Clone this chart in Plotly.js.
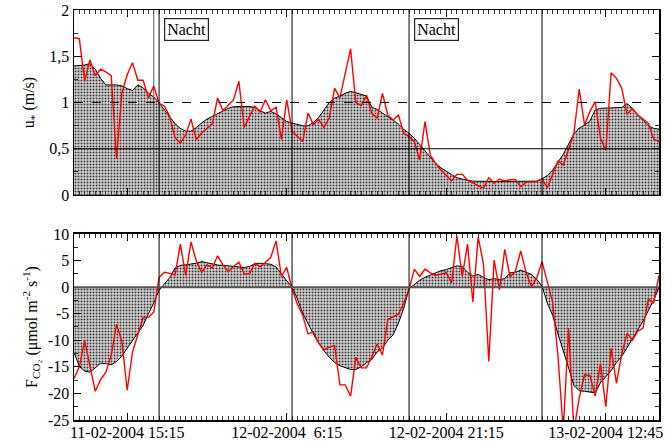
<!DOCTYPE html>
<html>
<head>
<meta charset="utf-8">
<script src="https://cdn.plot.ly/plotly-3.0.1.min.js"></script>
<style>
  html, body { margin: 0; padding: 0; background: #fff; }
  #chart { width: 665px; height: 443px; }
</style>
</head>
<body>
<div id="chart"></div>
<script>
// Half-hourly samples, sample 0 = 11-02-2004 10:15
const tickPositions = [10, 40, 70, 100];
const tickLabels = ['11-02-2004 15:15', '12-02-2004  6:15', '12-02-2004 21:15', '13-02-2004 12:45'];

// Friction velocity u* (m/s): measured and smoothed
const ustarRaw = [
  1.70, 1.69, 1.23, 1.46, 1.29, 1.36, 1.33, 1.29, 0.39, 1.10,
  1.30, 1.43, 1.24, 1.24, 1.05, 1.18, 0.99, 0.96, 0.85, 0.62,
  0.56, 0.65, 0.82, 0.60, 0.67, 0.72, 0.77, 1.05, 0.91, 0.97,
  1.03, 1.23, 0.73, 0.85, 0.96, 0.90, 1.03, 0.91, 0.95, 0.60,
  1.03, 0.69, 0.635, 0.577, 0.885, 0.762, 0.815, 0.73, 0.835, 1.155,
  1.05, 1.315, 1.58, 1.00, 0.968, 1.08, 0.883, 0.829, 1.099, 0.865,
  0.811, 0.865, 0.667, 0.631, 0.577, 0.378, 0.793, 0.432, 0.342, 0.27,
  0.209, 0.151, 0.223, 0.223, 0.16, 0.126, 0.10, 0.072, 0.187, 0.126,
  0.173, 0.151, 0.165, 0.169, 0.09, 0.137, 0.144, 0.144, 0.173, 0.079,
  0.223, 0.367, 0.324, 0.505, 0.667, 1.146, 0.757, 0.901, 1.009, 0.613,
  0.48, 1.322, 1.261, 1.153, 0.872, 0.937, 0.865, 0.822, 0.775, 0.605,
  0.577
];
const ustarSmooth = [
  1.395, 1.40, 1.405, 1.42, 1.36, 1.26, 1.19, 1.19, 1.19, 1.18,
  1.15, 1.13, 1.19, 1.16, 1.10, 1.06, 0.997, 0.92, 0.85, 0.77,
  0.72, 0.69, 0.69, 0.73, 0.78, 0.82, 0.85, 0.88, 0.91, 0.937,
  0.955, 0.958, 0.96, 0.958, 0.946, 0.91, 0.885, 0.904, 0.876, 0.838,
  0.795, 0.778, 0.76, 0.748, 0.748, 0.784, 0.838, 0.914, 1.0, 1.048,
  1.068, 1.10, 1.12, 1.105, 1.085, 1.07, 0.95, 0.925, 0.886, 0.85,
  0.81, 0.766, 0.71, 0.667, 0.613, 0.546, 0.478, 0.40, 0.34, 0.294,
  0.252, 0.22, 0.187, 0.171, 0.158, 0.15, 0.147, 0.146, 0.146, 0.146,
  0.146, 0.146, 0.146, 0.146, 0.146, 0.146, 0.146, 0.15, 0.175, 0.21,
  0.27, 0.35, 0.44, 0.55, 0.66, 0.725, 0.755, 0.80, 0.92, 0.937,
  0.94, 0.946, 0.942, 0.946, 0.988, 0.934, 0.865, 0.81, 0.75, 0.72,
  0.712
];

// CO2 flux (µmol m-2 s-1): measured and smoothed
const fco2Raw = [
  -17.2, -15.0, -10.0, -14.8, -19.6, -17.4, -16.0, -12.8, -7.0, -10.2,
  -19.4, -12.2, -8.9, -5.7, -5.7, -4.7, 1.8, 2.8, 2.6, 2.3,
  8.1, 2.2, 8.5, 4.9, 2.8, 4.2, 3.6, 5.9, 4.2, 2.9,
  3.9, 4.7, 2.5, 2.5, 4.5, 3.8, 4.7, 5.6, 8.7, 2.0,
  3.7, -0.3, -3.2, -5.3, -8.8, -8.4, -10.5, -11.8, -11.3, -11.0,
  -18.4, -18.4, -20.5, -13.2, -15.2, -15.2, -13.1, -10.7, -12.8, -6.1,
  -5.6, -5.1, -3.0, -0.4, 3.4, 2.0, 3.4, 2.7, 2.2, 2.5,
  2.7, 0.8, 9.6, 2.0, 8.1, -2.8, 9.4, 4.4, -14.0, 5.1,
  -0.5, 7.1, 1.9, 3.0, 6.8, 2.8, 0.1, 1.7, 4.8, 1.0,
  -2.8, -12.9, -27.0, -7.7, -27.0, -20.9, -16.5, -16.6, -20.5, -14.4,
  -22.5, -11.5, -18.1, -12.5, -8.7, -10.0, -8.3, -7.7, -2.2, -3.0,
  2.2
];
const fco2Smooth = [
  -12.3, -14.9, -15.8, -16.0, -15.2, -14.3, -14.4, -14.6, -14.0, -13.0,
  -11.5, -10.0, -8.5, -7.2, -5.0, -3.0, -0.6, 0.6, 1.8, 3.6,
  4.1, 4.2, 4.35, 4.5, 4.8, 4.6, 4.3, 4.15, 4.1, 4.0,
  3.9, 3.85, 3.7, 3.9, 4.4, 4.5, 4.35, 4.3, 3.8, 2.4,
  1.2, 0.0, -2.2, -4.9, -7.0, -8.8, -10.5, -12.0, -13.2, -14.2,
  -14.8, -15.2, -15.5, -15.5, -15.0, -14.2, -13.6, -12.2, -11.5, -10.0,
  -9.0, -6.8, -4.0, -0.3, 0.5, 1.3, 1.85, 2.3, 2.7, 3.1,
  3.3, 3.6, 4.0, 3.9, 2.8, 2.1, 2.4, 1.85, 1.4, 1.6,
  1.4, 1.6, 2.7, 2.8, 3.2, 2.8, 2.4, 1.5, 0.2, -3.0,
  -5.3, -8.8, -12.2, -15.2, -18.5, -19.5, -19.6, -19.7, -19.9, -18.0,
  -16.8, -15.7, -14.2, -13.0, -11.4, -9.8, -8.2, -6.4, -4.4, -2.5,
  -0.1
];

// Day/night boundaries (sample index) and night labels
const nightEdgesTop = [15, 16, 41, 63, 88];
const nightEdgesBottom = [16, 41, 63, 88];
const nightLabelX = [21.1, 68.1];
const nightLabelText = 'Nacht';

const ustarTickVals = [0, 0.5, 1, 1.5, 2];
const ustarTickText = ['0', '0,5', '1', '1,5', '2'];
const fluxTickVals = [-25, -20, -15, -10, -5, 0, 5, 10];
const fluxTickText = ['-25', '-20', '-15', '-10', '-5', '0', '5', '10'];

const FONT = 'Liberation Serif, Times New Roman, serif';

// fine halftone fill under the smoothed curves
const hatch = { shape: '.', size: 3, solidity: 0.35, fgcolor: '#3a3a3a', bgcolor: '#d4d4d4', fillmode: 'replace' };

const traces = [
  { y: ustarSmooth, x0: 0, dx: 1, xaxis: 'x2', yaxis: 'y2', type: 'scatter', mode: 'lines',
    line: { color: '#000', width: 1 }, fill: 'tozeroy', fillcolor: '#b8b8b8', fillpattern: hatch, hoverinfo: 'skip' },
  { y: ustarRaw, x0: 0, dx: 1, xaxis: 'x2', yaxis: 'y2', type: 'scatter', mode: 'lines',
    line: { color: '#ff0000', width: 1.4 } },
  { y: fco2Smooth, x0: 0, dx: 1, xaxis: 'x', yaxis: 'y', type: 'scatter', mode: 'lines',
    line: { color: '#000', width: 1 }, fill: 'tozeroy', fillcolor: '#b8b8b8', fillpattern: hatch, hoverinfo: 'skip' },
  { y: fco2Raw, x0: 0, dx: 1, xaxis: 'x', yaxis: 'y', type: 'scatter', mode: 'lines',
    line: { color: '#ff0000', width: 1.4 } }
];

const shapes = [];
nightEdgesTop.forEach((v, k) => shapes.push({
  type: 'line', xref: 'x2', yref: 'y2 domain', x0: v, x1: v, y0: 0, y1: 1,
  line: { color: k === 0 ? '#555' : '#000', width: 1 }, layer: 'above'
}));
nightEdgesBottom.forEach(v => shapes.push({
  type: 'line', xref: 'x', yref: 'y domain', x0: v, x1: v, y0: 0, y1: 1,
  line: { color: '#000', width: 1 }, layer: 'above'
}));
shapes.push({ type: 'line', xref: 'x2 domain', yref: 'y2', x0: 0, x1: 1, y0: 1, y1: 1,
  line: { color: '#000', width: 1, dash: 'dash' }, layer: 'above' });
shapes.push({ type: 'line', xref: 'x2 domain', yref: 'y2', x0: 0, x1: 1, y0: 0.5, y1: 0.5,
  line: { color: '#000', width: 1 }, layer: 'above' });
shapes.push({ type: 'line', xref: 'x domain', yref: 'y', x0: 0, x1: 1, y0: 0, y1: 0,
  line: { color: '#555', width: 2 }, layer: 'above' });

const annotations = nightLabelX.map(x => ({
  x: x, y: 1.79, xref: 'x2', yref: 'y2', text: nightLabelText, showarrow: false,
  font: { family: FONT, size: 16, color: '#000' },
  bgcolor: '#fff', bordercolor: '#222', borderwidth: 1.2, borderpad: 2
}));

const xCommon = {
  range: [0, 110], tickmode: 'array', tickvals: tickPositions, ticktext: tickLabels,
  ticks: 'inside', ticklen: 7, tickwidth: 1, tickcolor: '#000',
  minor: { ticks: 'inside', ticklen: 4, tickwidth: 1, tickcolor: '#333', tickmode: 'linear', tick0: 0, dtick: 1 },
  showline: true, linecolor: '#000', linewidth: 1.5, mirror: 'allticks',
  showgrid: false, zeroline: false, fixedrange: true,
  tickfont: { family: FONT, size: 16, color: '#000' }
};

const layout = {
  width: 665, height: 443,
  margin: { l: 74, r: 6, t: 10, b: 23 },
  paper_bgcolor: '#fff', plot_bgcolor: '#fff',
  showlegend: false,
  separators: ',.',
  font: { family: FONT, size: 16, color: '#000' },
  xaxis: Object.assign({}, xCommon, { anchor: 'y', domain: [0, 1], ticklabelstandoff: -3 }),
  xaxis2: Object.assign({}, xCommon, { anchor: 'y2', domain: [0, 1], showticklabels: false, matches: 'x' }),
  yaxis: {
    domain: [0, 0.4537], anchor: 'x', range: [-25, 10],
    tickmode: 'array', tickvals: fluxTickVals, ticktext: fluxTickText,
    ticks: 'inside', ticklen: 7, tickcolor: '#000',
    minor: { ticks: 'inside', ticklen: 4, tickcolor: '#333', tickmode: 'linear', tick0: 0, dtick: 2.5 },
    showline: true, linecolor: '#000', linewidth: 1.5, mirror: 'allticks',
    showgrid: false, zeroline: false, fixedrange: true,
    tickfont: { family: FONT, size: 16, color: '#000' },
    title: { text: 'F<sub>CO₂</sub> (μmol m<sup>-2</sup> s<sup>-1</sup>)', font: { family: FONT, size: 16 }, standoff: 6 }
  },
  yaxis2: {
    domain: [0.5488, 1], anchor: 'x2', range: [0, 2],
    tickmode: 'array', tickvals: ustarTickVals, ticktext: ustarTickText,
    ticks: 'inside', ticklen: 7, tickcolor: '#000',
    minor: { ticks: 'inside', ticklen: 4, tickcolor: '#333', tickmode: 'linear', tick0: 0, dtick: 0.25 },
    showline: true, linecolor: '#000', linewidth: 1.5, mirror: 'allticks',
    showgrid: false, zeroline: false, fixedrange: true,
    tickfont: { family: FONT, size: 16, color: '#000' },
    title: { text: 'u<sub>*</sub> (m/s)', font: { family: FONT, size: 16 }, standoff: 10 }
  },
  shapes: shapes,
  annotations: annotations
};

Plotly.newPlot('chart', traces, layout, { displayModeBar: false, staticPlot: true });
</script>
</body>
</html>
